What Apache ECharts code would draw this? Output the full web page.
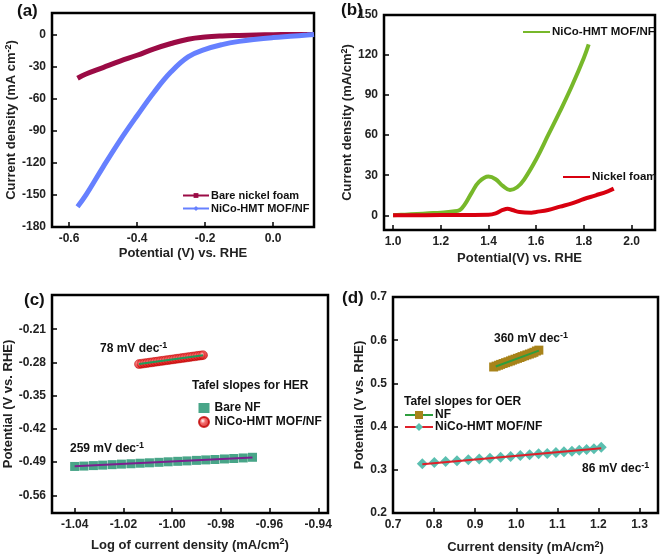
<!DOCTYPE html>
<html>
<head>
<meta charset="utf-8">
<script src="https://cdn.jsdelivr.net/npm/echarts@6/dist/echarts.min.js"></script>
<style>html,body{margin:0;padding:0;background:#fff}#c{width:661px;height:557px}</style>
</head>
<body>
<div id="c"></div>
<script>
// ---------- (a) HER polarization ----------
const herX = [-0.575, -0.55, -0.5, -0.45, -0.4, -0.35, -0.3, -0.25, -0.2, -0.15, -0.1, -0.05, 0, 0.05, 0.1, 0.12];
const bareNickelFoam = [-41, -37, -31, -25, -19.5, -13.5, -8.5, -4.5, -2.5, -1.5, -1, -0.6, -0.3, -0.1, 0, 0];
const nicoHer = [-161, -150, -124, -99, -76, -54, -35, -21, -14, -9.5, -6.5, -4.5, -3, -1.8, -0.6, 0];
const aXTicks = [-0.6, -0.4, -0.2, 0.0];
const aYTicks = [-180, -150, -120, -90, -60, -30, 0];

// ---------- (b) OER polarization ----------
const oerGreenX = [1.0, 1.05, 1.1, 1.15, 1.2, 1.25, 1.28, 1.3, 1.33, 1.36, 1.4, 1.43, 1.46, 1.49, 1.52, 1.55, 1.6, 1.65, 1.7, 1.75, 1.8, 1.82];
const nicoOer = [0, 0.5, 1, 1.5, 2, 2.8, 4, 8, 17, 25, 29, 27, 22, 19, 21, 27, 42, 60, 78, 97, 118, 128];
const oerRedX = [1.0, 1.2, 1.4, 1.43, 1.46, 1.48, 1.5, 1.53, 1.58, 1.6, 1.65, 1.7, 1.75, 1.8, 1.85, 1.9, 1.925];
const nickelFoamOer = [0, 0.2, 0.5, 1.5, 4, 5, 4, 2.5, 2, 2.5, 4, 6.5, 9, 12.2, 15, 18, 20];
const bXTicks = [1.0, 1.2, 1.4, 1.6, 1.8, 2.0];
const bYTicks = [0, 30, 60, 90, 120, 150];

// ---------- (c) Tafel HER ----------
const bareNfLogJ = [-1.0400, -1.0362, -1.0323, -1.0285, -1.0246, -1.0208, -1.0169, -1.0131, -1.0093, -1.0054, -1.0016, -0.9977, -0.9939, -0.9900, -0.9862, -0.9824, -0.9785, -0.9747, -0.9708, -0.9670];
const bareNfPot = [-0.4990, -0.4982, -0.4972, -0.4962, -0.4952, -0.4941, -0.4933, -0.4922, -0.4913, -0.4903, -0.4892, -0.4882, -0.4873, -0.4862, -0.4852, -0.4843, -0.4832, -0.4822, -0.4811, -0.4797];
const bareNfFitX = [-1.0400, -0.9670];
const bareNfFitY = [-0.4988, -0.4800];
const nicoHerLogJ = [-1.0136, -1.0125, -1.0114, -1.0103, -1.0092, -1.0081, -1.0070, -1.0059, -1.0048, -1.0037, -1.0026, -1.0015, -1.0004, -0.9993, -0.9982, -0.9971, -0.9960, -0.9949, -0.9938, -0.9927, -0.9916, -0.9905, -0.9894, -0.9883, -0.9873];
const nicoHerPot = [-0.2835, -0.2827, -0.2819, -0.2812, -0.2803, -0.2796, -0.2788, -0.2780, -0.2772, -0.2764, -0.2756, -0.2749, -0.2740, -0.2733, -0.2724, -0.2717, -0.2709, -0.2701, -0.2693, -0.2685, -0.2677, -0.2670, -0.2661, -0.2654, -0.2646];
const nicoHerFitX = [-1.0136, -0.9873];
const nicoHerFitY = [-0.2833, -0.2648];
const cXTicks = [-1.04, -1.02, -1.00, -0.98, -0.96, -0.94];
const cYTicks = [-0.56, -0.49, -0.42, -0.35, -0.28, -0.21];

// ---------- (d) Tafel OER ----------
const nfJ = [0.945, 0.951, 0.957, 0.962, 0.968, 0.974, 0.980, 0.986, 0.991, 0.997, 1.003, 1.009, 1.014, 1.020, 1.026, 1.032, 1.038, 1.043, 1.049, 1.055];
const nfPot = [0.538, 0.540, 0.542, 0.544, 0.546, 0.548, 0.550, 0.552, 0.554, 0.556, 0.558, 0.560, 0.562, 0.564, 0.566, 0.568, 0.570, 0.572, 0.575, 0.577];
const nfFitX = [0.950, 1.055];
const nfFitY = [0.539, 0.576];
const nicoOerJ = [0.7714, 0.8006, 0.8281, 0.8557, 0.8833, 0.9100, 0.9360, 0.9620, 0.9863, 1.0098, 1.0325, 1.0544, 1.0755, 1.0966, 1.1161, 1.1355, 1.1534, 1.1712, 1.1891, 1.2069];
const nicoOerPot = [0.314, 0.317, 0.319, 0.321, 0.323, 0.325, 0.327, 0.329, 0.331, 0.333, 0.335, 0.337, 0.338, 0.340, 0.342, 0.343, 0.345, 0.347, 0.349, 0.352];
const nicoOerFitX = [0.7714, 1.2069];
const nicoOerFitY = [0.313, 0.350];
const dXTicks = [0.7, 0.8, 0.9, 1.0, 1.1, 1.2, 1.3];
const dYTicks = [0.2, 0.3, 0.4, 0.5, 0.6, 0.7];

const zip = (xs, ys) => xs.map((x, i) => [x, ys[i]]);
const FONT = 'Liberation Sans, Arial, sans-serif';
const rich = {
  sup: { fontSize: 9, fontWeight: 'bold', fontFamily: FONT, color: '#111', verticalAlign: 'top', padding: [0, 0, 6, 0] }
};

function axisCommon(ticks, dec, gridIndex) {
  return {
    gridIndex: gridIndex,
    type: 'value',
    splitLine: { show: false },
    axisLine: { show: false, onZero: false },
    axisTick: { show: true, inside: true, length: 5, lineStyle: { color: '#000', width: 1.5 }, customValues: ticks },
    axisLabel: { customValues: ticks, formatter: v => Number(v).toFixed(dec), fontFamily: FONT, fontWeight: 'bold', fontSize: 12, color: '#222', margin: 6 },
    nameLocation: 'middle',
    nameTextStyle: { fontFamily: FONT, fontWeight: 'bold', fontSize: 13, color: '#222', rich: rich }
  };
}

const gridStyle = { show: true, borderColor: '#000', borderWidth: 2.5, backgroundColor: 'transparent', containLabel: false };

const sphere = {
  type: 'radial', x: 0.4, y: 0.4, r: 0.6,
  colorStops: [{ offset: 0, color: '#ffffff' }, { offset: 0.35, color: '#f24b4b' }, { offset: 1, color: '#c80000' }]
};

const titleStyle = (size) => ({ fontFamily: FONT, fontWeight: 'bold', fontSize: size, color: '#111', rich: rich });
const T = (text, left, top, size) => ({ text: text, left: left, top: top, padding: 0, textStyle: titleStyle(size) });
const legendText = (size) => ({ fontFamily: FONT, fontWeight: 'bold', fontSize: size, color: '#111', padding: [0, 0, 0, -3] });

const option = {
  animation: false,
  backgroundColor: '#fff',
  title: [
    T('(a)', 17, 3, 17),
    T('(b)', 341, 2, 17),
    T('(c)', 24, 292, 17),
    T('(d)', 342, 290, 17),
    T('78 mV dec{sup|-1}', 100, 341, 12),
    T('259 mV dec{sup|-1}', 70, 441, 12),
    T('Tafel slopes for HER', 192, 380, 12),
    T('360 mV dec{sup|-1}', 494, 331, 12),
    T('86 mV dec{sup|-1}', 582, 461, 12),
    T('Tafel slopes for OER', 404, 396, 12)
  ],
  grid: [
    Object.assign({ left: 52, top: 13, width: 262, height: 214 }, gridStyle),
    Object.assign({ left: 384, top: 15, width: 271, height: 215 }, gridStyle),
    Object.assign({ left: 52, top: 295, width: 276, height: 218 }, gridStyle),
    Object.assign({ left: 393, top: 297, width: 265, height: 216 }, gridStyle)
  ],
  xAxis: [
    Object.assign(axisCommon(aXTicks, 1, 0), { min: -0.65, max: 0.12, name: 'Potential (V) vs. RHE', nameGap: 19.5 }),
    Object.assign(axisCommon(bXTicks, 1, 1), { min: 0.962, max: 2.098, name: 'Potential(V) vs. RHE', nameGap: 22 }),
    Object.assign(axisCommon(cXTicks, 2, 2), { min: -1.0493, max: -0.936, name: 'Log of current density (mA/cm{sup|2})', nameGap: 24.5 }),
    Object.assign(axisCommon(dXTicks, 1, 3), { min: 0.7, max: 1.345, name: 'Current density (mA/cm{sup|2})', nameGap: 27 })
  ],
  yAxis: [
    Object.assign(axisCommon(aYTicks, 0, 0), { min: -180, max: 20, name: 'Current density (mA cm{sup|-2})', nameGap: 30 }),
    Object.assign(axisCommon(bYTicks, 0, 1), { min: -11, max: 150, name: 'Current density (mA/cm{sup|2})', nameGap: 18 }),
    Object.assign(axisCommon(cYTicks, 2, 2), { min: -0.597, max: -0.138, name: 'Potential (V vs. RHE)', nameGap: 35.5 }),
    Object.assign(axisCommon(dYTicks, 1, 3), { min: 0.2, max: 0.7, name: 'Potential (V vs. RHE)', nameGap: 25 })
  ],
  legend: [
    {
      data: ['Bare nickel foam', 'NiCo-HMT MOF/NF'], padding: 0,
      left: 182, top: 190, orient: 'vertical', itemGap: 2, itemWidth: 26, itemHeight: 6,
      textStyle: legendText(11)
    },
    {
      data: ['NiCo-HMT MOF/NF (b)'], formatter: () => 'NiCo-HMT MOF/NF', padding: 0,
      left: 522, top: 26, itemWidth: 27, itemHeight: 10, itemStyle: { opacity: 0 },
      textStyle: legendText(11.5)
    },
    {
      data: ['Nickel foam'], padding: 0,
      left: 562, top: 171, itemWidth: 27, itemHeight: 10, itemStyle: { opacity: 0 },
      textStyle: legendText(11.5)
    },
    {
      data: ['Bare NF', 'NiCo-HMT MOF/NF (c)'], formatter: n => n.replace(' (c)', ''), padding: 0,
      left: 198, top: 402, orient: 'vertical', itemGap: 2, itemWidth: 11, itemHeight: 10,
      textStyle: { fontFamily: FONT, fontWeight: 'bold', fontSize: 12, color: '#111' }
    },
    {
      data: [
        { name: 'NF', lineStyle: { opacity: 1, color: '#2e9e3e', width: 2 } },
        { name: 'NiCo-HMT MOF/NF (d)', lineStyle: { opacity: 1, color: '#e0202a', width: 2 } }
      ],
      formatter: n => n.replace(' (d)', ''), padding: 0,
      left: 404, top: 409, orient: 'vertical', itemGap: 0, itemWidth: 28, itemHeight: 10,
      textStyle: legendText(12)
    }
  ],
  series: [
    // (a)
    { name: 'Bare nickel foam', type: 'line', xAxisIndex: 0, yAxisIndex: 0, data: zip(herX, bareNickelFoam), smooth: 0.4,
      symbol: 'rect', symbolSize: 5, showSymbol: false, color: '#9b0b45', lineStyle: { width: 5, color: '#9b0b45' } },
    { name: 'NiCo-HMT MOF/NF', type: 'line', xAxisIndex: 0, yAxisIndex: 0, data: zip(herX, nicoHer), smooth: 0.4,
      symbol: 'diamond', symbolSize: 6, showSymbol: false, color: '#6680ff', lineStyle: { width: 5, color: '#6680ff' } },
    // (b)
    { name: 'NiCo-HMT MOF/NF (b)', type: 'line', xAxisIndex: 1, yAxisIndex: 1, data: zip(oerGreenX, nicoOer), smooth: 0.4,
      symbol: 'none', color: '#77b82a', lineStyle: { width: 4, color: '#77b82a' } },
    { name: 'Nickel foam', type: 'line', xAxisIndex: 1, yAxisIndex: 1, data: zip(oerRedX, nickelFoamOer), smooth: 0.4,
      symbol: 'none', color: '#d8000f', lineStyle: { width: 4, color: '#d8000f' } },
    // (c)
    { name: 'Bare NF', type: 'scatter', xAxisIndex: 2, yAxisIndex: 2, data: zip(bareNfLogJ, bareNfPot),
      symbol: 'rect', symbolSize: 9, itemStyle: { color: '#1a8f6a' } },
    { name: 'Bare NF fit', type: 'line', xAxisIndex: 2, yAxisIndex: 2, data: zip(bareNfFitX, bareNfFitY),
      symbol: 'none', lineStyle: { width: 2, color: '#7d1f8f' }, z: 5 },
    { name: 'NiCo-HMT MOF/NF (c)', type: 'scatter', xAxisIndex: 2, yAxisIndex: 2, data: zip(nicoHerLogJ, nicoHerPot),
      symbol: 'circle', symbolSize: 9, itemStyle: { color: sphere, borderColor: '#c00000', borderWidth: 0.5 } },
    { name: 'NiCo-HMT fit', type: 'line', xAxisIndex: 2, yAxisIndex: 2, data: zip(nicoHerFitX, nicoHerFitY),
      symbol: 'none', lineStyle: { width: 2, color: '#1e9c5a' }, z: 5 },
    // (d)
    { name: 'NF', type: 'line', xAxisIndex: 3, yAxisIndex: 3, data: zip(nfJ, nfPot),
      symbol: 'rect', symbolSize: 9, showSymbol: true, itemStyle: { color: '#a8831a' }, lineStyle: { width: 2, color: '#2e9e3e', opacity: 0 } },
    { name: 'NF fit', type: 'line', xAxisIndex: 3, yAxisIndex: 3, data: zip(nfFitX, nfFitY),
      symbol: 'none', lineStyle: { width: 2, color: '#2e9e3e' }, z: 5 },
    { name: 'NiCo-HMT MOF/NF (d)', type: 'line', xAxisIndex: 3, yAxisIndex: 3, data: zip(nicoOerJ, nicoOerPot),
      symbol: 'diamond', symbolSize: 11, showSymbol: true, itemStyle: { color: '#5bbfb0' }, lineStyle: { width: 2, color: '#e0202a', opacity: 0 } },
    { name: 'NiCo-HMT OER fit', type: 'line', xAxisIndex: 3, yAxisIndex: 3, data: zip(nicoOerFitX, nicoOerFitY),
      symbol: 'none', lineStyle: { width: 2, color: '#e0202a' }, z: 5 }
  ]
};

const chart = echarts.init(document.getElementById('c'), null, { renderer: 'canvas' });
chart.setOption(option);
</script>
</body>
</html>
